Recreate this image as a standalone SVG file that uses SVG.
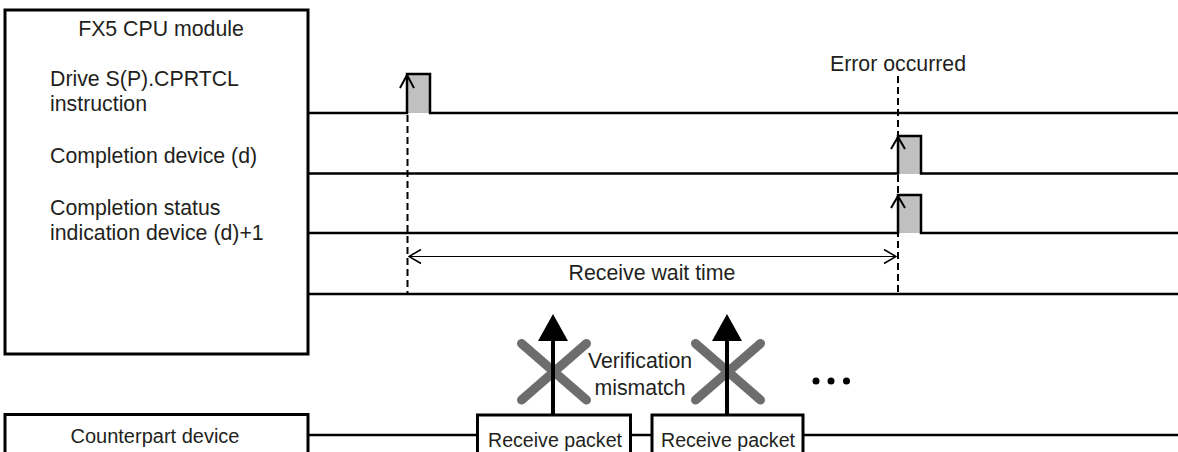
<svg xmlns="http://www.w3.org/2000/svg" width="1178" height="452" viewBox="0 0 1178 452">
<style>
text{font-family:"Liberation Sans",Arial,sans-serif;font-size:21.3px;fill:#231f20}
.c{text-anchor:middle}
.s{font-size:19.6px}
.m{font-size:20px}
.box{fill:#fff;stroke:#000;stroke-width:3}
.sig{fill:none;stroke:#000;stroke-width:2.5}
.pulse{fill:#c0c0c0;stroke:none}
.dash{fill:none;stroke:#000;stroke-width:2;stroke-dasharray:7 4}
.dim{fill:none;stroke:#000;stroke-width:1.2}
.chev{fill:none;stroke:#000;stroke-width:2}
.x{stroke:#6d6d6d;stroke-width:9;stroke-linecap:round}
</style>
<defs>
<marker id="open" viewBox="0 0 14 16" refX="13" refY="8" markerWidth="14" markerHeight="16" markerUnits="userSpaceOnUse" orient="auto-start-reverse">
<path d="M1 1 L13 8 L1 15" fill="none" stroke="#000" stroke-width="1.6"/>
</marker>
</defs>
<g id="cpu-module">
<rect class="box" x="5" y="10" width="303" height="344"/>
<text class="c" x="161" y="36">FX5 CPU module</text>
<text x="50" y="86">Drive S(P).CPRTCL</text>
<text x="50" y="110.5">instruction</text>
<text x="50" y="162.5">Completion device (d)</text>
<text x="50" y="215">Completion status</text>
<text x="50" y="240">indication device (d)+1</text>
</g>
<g id="counterpart-device">
<rect class="box" x="5" y="414.5" width="303" height="50"/>
<text class="c m" x="155" y="443">Counterpart device</text>
</g>
<g id="receive-packet-1">
<rect class="box" x="477.5" y="415" width="153" height="50"/>
<text class="c s" x="555" y="447">Receive packet</text>
</g>
<g id="receive-packet-2">
<rect class="box" x="652" y="415" width="151" height="50"/>
<text class="c s" x="728" y="447">Receive packet</text>
</g>
<g id="signals">
<rect class="pulse" x="407" y="74" width="23" height="39"/>
<rect class="pulse" x="898" y="136" width="23" height="38"/>
<rect class="pulse" x="898" y="195" width="23" height="38"/>
<path class="sig" d="M308 113 H407 V74 H430 V113 H1178"/>
<path class="sig" d="M308 173.5 H898 V136 H921 V173.5 H1178"/>
<path class="sig" d="M308 233 H898 V195 H921 V233 H1178"/>
<path class="sig" d="M308 294 H1178"/>
<path class="chev" d="M400 88 L407 75 L414 88"/>
<path class="chev" d="M891 149 L898 137 L905 149"/>
<path class="chev" d="M891 208 L898 196 L905 208"/>
</g>
<g id="connectors">
<line class="dash" x1="407.5" y1="115" x2="407.5" y2="294"/>
<line class="dash" x1="898" y1="76" x2="898" y2="294"/>
<line class="dim" x1="409" y1="256.5" x2="896" y2="256.5" marker-start="url(#open)" marker-end="url(#open)"/>
<text class="c" x="652" y="280">Receive wait time</text>
<text class="c" x="898" y="71">Error occurred</text>
<path d="M308 435 H477.5 M630.5 435 H652 M803 435 H1178" class="sig"/>
<line class="x" x1="521.5" y1="343.5" x2="586.5" y2="400"/>
<line class="x" x1="586.5" y1="343.5" x2="521.5" y2="400"/>
<line class="x" x1="695.5" y1="343.5" x2="760.5" y2="400"/>
<line class="x" x1="760.5" y1="343.5" x2="695.5" y2="400"/>
<line x1="553" y1="415" x2="553" y2="338" stroke="#000" stroke-width="4"/>
<path d="M538 341 L553 314 L568 341 Z" fill="#000"/>
<line x1="727" y1="415" x2="727" y2="338" stroke="#000" stroke-width="4"/>
<path d="M712 341 L727 314 L742 341 Z" fill="#000"/>
<text class="c" x="640" y="368">Verification</text>
<text class="c" x="640" y="395">mismatch</text>
<circle cx="816" cy="381" r="3.5" fill="#000"/>
<circle cx="831" cy="381" r="3.5" fill="#000"/>
<circle cx="846.5" cy="381" r="3.5" fill="#000"/>
</g>
</svg>
